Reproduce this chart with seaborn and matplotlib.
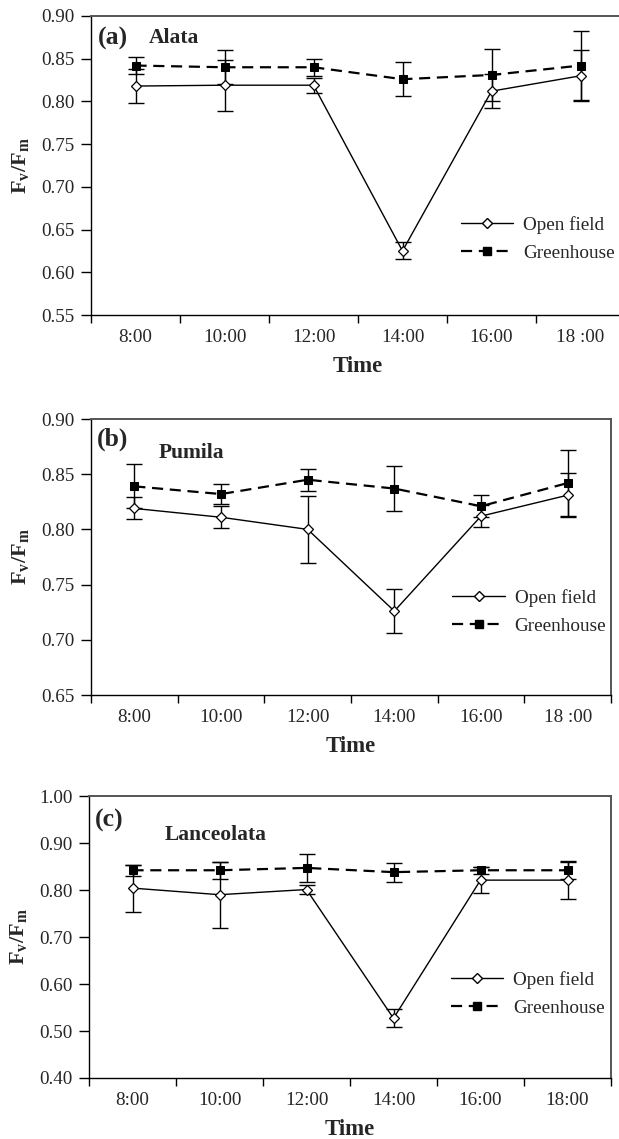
import numpy as np
import pandas as pd
import seaborn as sns
import matplotlib.pyplot as plt
from matplotlib.lines import Line2D

# ---- data ----
times_ab = ["8:00", "10:00", "12:00", "14:00", "16:00", "18 :00"]
times_c = ["8:00", "10:00", "12:00", "14:00", "16:00", "18:00"]

alata_open = [0.818, 0.819, 0.819, 0.625, 0.812, 0.830]
alata_open_err = [0.02, 0.03, 0.009, 0.01, 0.02, 0.03]
alata_gh = [0.842, 0.840, 0.840, 0.826, 0.831, 0.842]
alata_gh_err = [0.01, 0.02, 0.01, 0.02, 0.03, 0.04]

pumila_open = [0.819, 0.811, 0.800, 0.726, 0.812, 0.831]
pumila_open_err = [0.01, 0.01, 0.03, 0.02, 0.01, 0.02]
pumila_gh = [0.839, 0.832, 0.845, 0.837, 0.821, 0.842]
pumila_gh_err = [0.02, 0.009, 0.01, 0.02, 0.01, 0.03]

lanc_open = [0.804, 0.790, 0.801, 0.527, 0.821, 0.821]
lanc_open_err = [0.05, 0.07, 0.01, 0.019, 0.028, 0.04]
lanc_gh = [0.842, 0.842, 0.847, 0.838, 0.842, 0.842]
lanc_gh_err = [0.012, 0.018, 0.03, 0.02, 0.008, 0.018]

series_names = ["Open field", "Greenhouse"]

sns.set_style("ticks")
plt.rcParams['font.family'] = ['Liberation Serif', 'DejaVu Serif']
plt.rcParams['mathtext.fontset'] = 'custom'
plt.rcParams['mathtext.rm'] = 'Liberation Serif'
plt.rcParams['mathtext.it'] = 'Liberation Serif:italic'
plt.rcParams['mathtext.bf'] = 'Liberation Serif:bold'

W, H = 619, 1139
fig = plt.figure(figsize=(W / 100, H / 100), dpi=100)


def px_axes(left, top, right, bottom):
    return fig.add_axes([left / W, 1 - bottom / H, (right - left) / W, (bottom - top) / H])


FS = 13.8

panels = [
    dict(box=(91, 16, 625, 315), times=times_ab, op=alata_open, ope=alata_open_err,
         gh=alata_gh, ghe=alata_gh_err, ylim=(0.55, 0.90), yt=np.arange(0.55, 0.901, 0.05),
         tag="(a)", name="Alata", tag_xy=(0.012, 0.925), name_xy=(0.108, 0.925),
         leg=(0.692, 0.33)),
    dict(box=(91, 419, 611, 695), times=times_ab, op=pumila_open, ope=pumila_open_err,
         gh=pumila_gh, ghe=pumila_gh_err, ylim=(0.65, 0.90), yt=np.arange(0.65, 0.901, 0.05),
         tag="(b)", name="Pumila", tag_xy=(0.012, 0.925), name_xy=(0.13, 0.875),
         leg=(0.695, 0.385)),
    dict(box=(89, 796, 611, 1078), times=times_c, op=lanc_open, ope=lanc_open_err,
         gh=lanc_gh, ghe=lanc_gh_err, ylim=(0.40, 1.00), yt=np.arange(0.40, 1.001, 0.10),
         tag="(c)", name="Lanceolata", tag_xy=(0.012, 0.915), name_xy=(0.145, 0.86),
         leg=(0.693, 0.38)),
]

for p in panels:
    ax = px_axes(*p["box"])
    pos = np.arange(len(p["times"]))
    df = pd.DataFrame({"pos": pos, "open": p["op"], "gh": p["gh"]})

    ax.errorbar(pos, p["gh"], yerr=p["ghe"], fmt="none", ecolor="black",
                elinewidth=1, capsize=5.5, capthick=1, zorder=2)
    ax.errorbar(pos, p["op"], yerr=p["ope"], fmt="none", ecolor="black",
                elinewidth=1, capsize=5.5, capthick=1, zorder=2)

    sns.lineplot(data=df, x="pos", y="gh", ax=ax, color="black", lw=1.6,
                 marker="s", markersize=6, markerfacecolor="black",
                 markeredgecolor="black", zorder=3)
    ax.lines[-1].set_linestyle((0, (5, 3)))
    sns.lineplot(data=df, x="pos", y="open", ax=ax, color="black", lw=1.0,
                 marker="D", markersize=5, markerfacecolor="white",
                 markeredgecolor="black", markeredgewidth=0.9, zorder=4)

    ax.set_xlim(-0.5, len(pos) - 0.5)
    ax.set_ylim(*p["ylim"])
    ax.set_xticks(np.arange(-0.5, len(pos), 1.0))
    ax.set_xticklabels([])
    ax.set_xticks(pos, minor=True)
    ax.set_xticklabels(p["times"], minor=True)
    ax.tick_params(axis="x", which="major", length=6, width=1, direction="out", color="black")
    ax.tick_params(axis="x", which="minor", length=0, pad=10, labelsize=FS)
    ax.set_yticks(p["yt"])
    ax.set_yticklabels([f"{v:.2f}" for v in p["yt"]])
    ax.tick_params(axis="y", length=7, width=1, direction="out", labelsize=FS, pad=5, color="black")

    ax.set_xlabel("Time", fontsize=16.5, fontweight="bold", labelpad=7)
    ax.set_ylabel(r"$\mathbf{F_v/F_m}$", fontsize=16, labelpad=7)

    for s in ["left", "bottom"]:
        ax.spines[s].set_color("black")
        ax.spines[s].set_linewidth(1.0)
    for s in ["top", "right"]:
        ax.spines[s].set_color("#555555")
        ax.spines[s].set_linewidth(1.4)

    ax.text(*p["tag_xy"], p["tag"], transform=ax.transAxes, fontsize=18.5,
            fontweight="bold", va="center", ha="left")
    ax.text(*p["name_xy"], p["name"], transform=ax.transAxes, fontsize=15.5,
            fontweight="bold", va="center", ha="left")

    handles = [
        Line2D([], [], color="black", lw=1.0, marker="D", markersize=5,
               markerfacecolor="white", markeredgecolor="black"),
        Line2D([], [], color="black", lw=1.6, linestyle=(0, (5, 3)), marker="s",
               markersize=6, markerfacecolor="black"),
    ]
    ax.legend(handles, series_names, loc="upper left", bbox_to_anchor=p["leg"],
              frameon=False, fontsize=FS, handlelength=2.75, handletextpad=0.5,
              labelspacing=0.55, borderaxespad=0, borderpad=0)

fig.savefig("out.png", dpi=100)
